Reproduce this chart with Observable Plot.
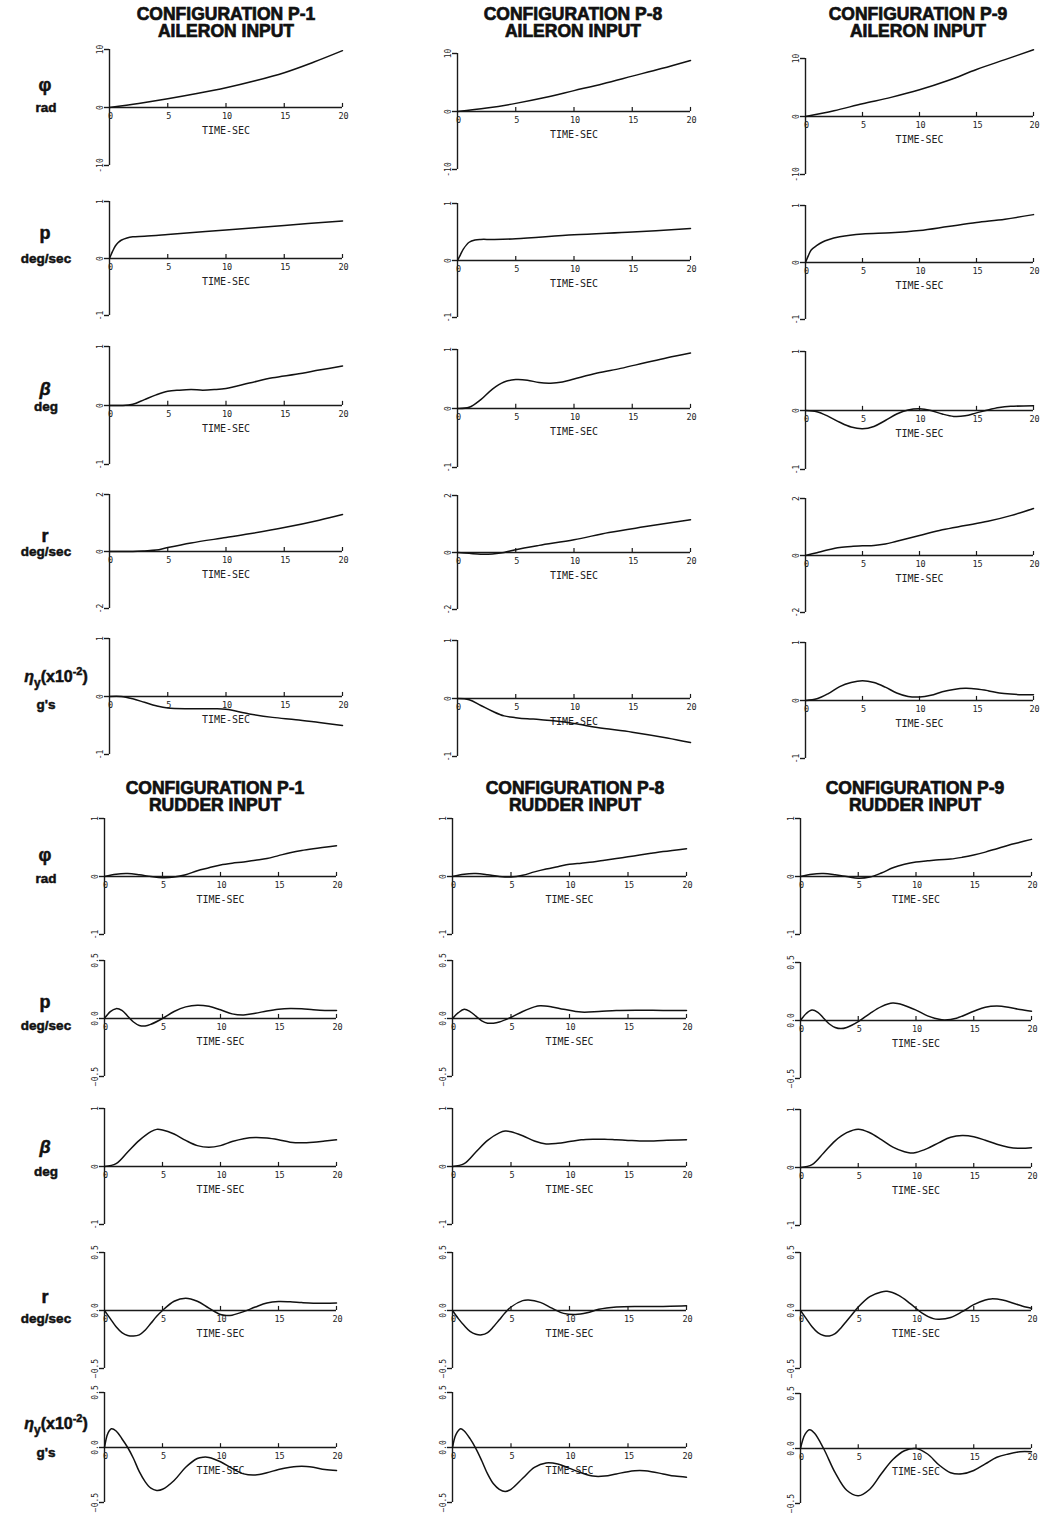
<!DOCTYPE html>
<html>
<head>
<meta charset="utf-8">
<script src="https://cdn.jsdelivr.net/npm/d3@7"></script>
<script src="https://cdn.jsdelivr.net/npm/@observablehq/plot@0.6"></script>
<style>
  html, body { margin: 0; padding: 0; background: #fff; overflow: hidden; }
  #page { position: relative; width: 1042px; height: 1513px; overflow: hidden; background: #fff; }
  .title { position: absolute; transform: translateX(-50%); text-align: center;
           font-family: "Liberation Sans", Arial, sans-serif; font-weight: bold;
           font-size: 17.5px; line-height: 17px; white-space: nowrap; color: #111;
           -webkit-text-stroke: 0.7px #111; }
  .rowlab { position: absolute; transform: translate(-50%, -50%); text-align: center;
            font-family: "Liberation Sans", Arial, sans-serif; font-weight: bold;
            font-size: 13.5px; white-space: nowrap; color: #111; -webkit-text-stroke: 0.5px #111; }
  .rowlab.sym { font-size: 18px; }
  .rowlab.eta { font-size: 16px; }
  .rowlab sub { font-size: 12px; vertical-align: -5px; }
  .rowlab sup { font-size: 11px; vertical-align: 7px; }
  .panel { position: absolute; }
  .panel svg { max-width: none !important; }
</style>
</head>
<body>
<div id="page"></div>
<script>
// ---- time-history samples: [time (s), response] ----

// Aileron input
const ailP1Phi  = [[0,0],[2.5,0.7],[5,1.5],[7.5,2.4],[10,3.4],[12.5,4.6],[15,6.0],[17.5,7.8],[20,9.8]];
const ailP1P    = [[0,0],[0.25,0.12],[0.5,0.22],[0.75,0.28],[1,0.32],[1.5,0.36],[2,0.38],[3,0.39],[5,0.42],[10,0.5],[15,0.58],[20,0.66]];
const ailP1Beta = [[0,0],[1,0],[2,0.02],[3,0.1],[4,0.18],[5,0.24],[6,0.26],[7,0.27],[8,0.26],[9,0.27],[10,0.29],[12,0.38],[14,0.47],[16,0.53],[18,0.6],[20,0.67]];
const ailP1R    = [[0,0],[2,0],[3,0.02],[4,0.05],[5,0.14],[7,0.3],[10,0.49],[12,0.62],[15,0.84],[18,1.1],[20,1.3]];
const ailP1Ny   = [[0,0],[1,0],[2,-0.04],[3,-0.1],[4,-0.16],[5,-0.2],[7,-0.21],[9,-0.21],[10,-0.22],[12,-0.3],[14,-0.36],[16,-0.4],[18,-0.45],[20,-0.5]];

const ailP8Phi  = [[0,0],[2.5,0.6],[5,1.4],[7.5,2.4],[10,3.6],[12.5,4.8],[15,6.1],[17.5,7.4],[20,8.8]];
const ailP8P    = [[0,0],[0.25,0.1],[0.5,0.2],[1,0.32],[1.5,0.36],[2,0.37],[3,0.37],[5,0.38],[10,0.45],[15,0.5],[20,0.56]];
const ailP8Beta = [[0,0],[1,0.02],[2,0.15],[3,0.33],[4,0.45],[5,0.49],[6,0.48],[7,0.44],[8,0.43],[9,0.45],[10,0.5],[12,0.6],[14,0.68],[16,0.77],[18,0.86],[20,0.94]];
const ailP8R    = [[0,0],[1,-0.03],[2,-0.06],[3,-0.05],[4,0],[5,0.1],[7,0.25],[10,0.45],[13,0.7],[16,0.9],[20,1.15]];
const ailP8Ny   = [[0,0],[1,-0.02],[2,-0.12],[3,-0.22],[4,-0.3],[5,-0.33],[6,-0.35],[7,-0.36],[8,-0.38],[10,-0.43],[12,-0.5],[15,-0.58],[18,-0.68],[20,-0.76]];

const ailP9Phi  = [[0,0],[2.5,1.0],[5,2.2],[7.5,3.3],[10,4.6],[12.5,6.2],[15,8.1],[17.5,9.8],[20,11.5]];
const ailP9P    = [[0,0],[0.25,0.12],[0.5,0.22],[1,0.3],[1.5,0.36],[2,0.4],[3,0.45],[5,0.5],[7.5,0.52],[10,0.56],[12.5,0.63],[15,0.7],[17.5,0.76],[20,0.84]];
const ailP9Beta = [[0,0],[1,-0.02],[2,-0.1],[3,-0.2],[4,-0.28],[5,-0.31],[6,-0.27],[7,-0.17],[8,-0.06],[9,0.01],[10,0.03],[11,0],[12,-0.06],[13,-0.1],[14,-0.09],[15,-0.04],[16,0.01],[17,0.05],[18,0.07],[20,0.08]];
const ailP9R    = [[0,0],[1,0.1],[2,0.2],[3,0.28],[4,0.32],[5,0.34],[6,0.35],[7,0.4],[8,0.5],[10,0.7],[12,0.9],[14,1.05],[16,1.2],[18,1.4],[20,1.65]];
const ailP9Ny   = [[0,0],[1,0.03],[2,0.12],[3,0.24],[4,0.31],[5,0.34],[6,0.31],[7,0.23],[8,0.13],[9,0.07],[10,0.06],[11,0.09],[12,0.15],[13,0.19],[14,0.21],[15,0.2],[16,0.17],[17,0.13],[18,0.11],[19,0.1],[20,0.1]];

// Rudder input
const rudP1Phi  = [[0,0],[1,0.04],[2,0.05],[3,0.03],[4,0],[5,-0.02],[6,-0.01],[7,0.03],[8,0.1],[9,0.15],[10,0.2],[11,0.23],[12,0.25],[13,0.28],[14,0.31],[15,0.36],[16,0.41],[17,0.45],[18,0.48],[20,0.53]];
const rudP1P    = [[0,0],[0.5,0.06],[1,0.085],[1.5,0.07],[2,0.02],[2.5,-0.03],[3,-0.06],[3.5,-0.065],[4,-0.05],[5,0],[6,0.06],[7,0.1],[8,0.115],[9,0.105],[10,0.075],[11,0.04],[12,0.03],[13,0.045],[14,0.065],[15,0.08],[16,0.086],[17,0.083],[18,0.075],[19,0.07],[20,0.07]];
const rudP1Beta = [[0,0],[1,0.05],[2,0.25],[3,0.45],[4,0.6],[4.5,0.64],[5,0.63],[6,0.56],[7,0.45],[8,0.36],[9,0.33],[10,0.36],[11,0.43],[12,0.48],[13,0.5],[14,0.49],[15,0.46],[16,0.42],[17,0.41],[18,0.42],[19,0.44],[20,0.46]];
const rudP1R    = [[0,0],[0.5,-0.07],[1,-0.14],[1.5,-0.19],[2,-0.215],[2.5,-0.22],[3,-0.21],[3.5,-0.17],[4,-0.11],[4.5,-0.05],[5,0],[6,0.08],[7,0.106],[8,0.08],[9,0.02],[10,-0.035],[10.5,-0.043],[11,-0.04],[12,-0.01],[13,0.03],[14,0.065],[15,0.078],[16,0.075],[17,0.068],[18,0.063],[19,0.063],[20,0.065]];
const rudP1Ny   = [[0,0],[0.3,0.13],[0.6,0.17],[1,0.15],[1.5,0.08],[2,0],[2.5,-0.1],[3,-0.22],[3.5,-0.31],[4,-0.37],[4.5,-0.39],[5,-0.38],[6,-0.3],[7,-0.18],[8,-0.1],[8.5,-0.088],[9,-0.09],[10,-0.13],[11,-0.19],[12,-0.24],[13,-0.25],[14,-0.23],[15,-0.2],[16,-0.18],[17,-0.17],[18,-0.18],[19,-0.2],[20,-0.21]];

const rudP8Phi  = [[0,0],[1,0.04],[2,0.05],[3,0.03],[4,0],[5,-0.01],[6,0.02],[7,0.08],[8,0.13],[9,0.17],[10,0.21],[11,0.23],[12,0.25],[13,0.28],[14,0.31],[15,0.34],[16,0.37],[17,0.4],[18,0.43],[20,0.48]];
const rudP8P    = [[0,0],[0.5,0.05],[1,0.08],[1.5,0.06],[2,0.02],[2.5,-0.02],[3,-0.04],[3.5,-0.04],[4,-0.03],[5,0.01],[6,0.06],[7,0.1],[7.5,0.11],[8.5,0.1],[9.5,0.08],[11,0.055],[12.5,0.06],[14,0.07],[16,0.072],[18,0.07],[20,0.07]];
const rudP8Beta = [[0,0],[1,0.05],[2,0.25],[3,0.45],[4,0.58],[4.5,0.61],[5,0.6],[6,0.53],[7,0.44],[8,0.39],[9,0.4],[10,0.43],[11,0.46],[12,0.47],[13,0.47],[14,0.46],[15,0.45],[16,0.44],[17,0.44],[18,0.45],[20,0.46]];
const rudP8R    = [[0,0],[0.5,-0.07],[1,-0.13],[1.5,-0.18],[2,-0.205],[2.5,-0.21],[3,-0.19],[3.5,-0.14],[4,-0.08],[4.5,-0.02],[5,0.03],[6,0.085],[6.5,0.09],[7.5,0.07],[8.5,0.02],[9.5,-0.025],[10.5,-0.035],[11.5,-0.02],[12.5,0.01],[14,0.03],[16,0.035],[18,0.035],[20,0.04]];
const rudP8Ny   = [[0,0],[0.3,0.12],[0.7,0.17],[1,0.15],[1.5,0.08],[2,-0.01],[2.5,-0.12],[3,-0.24],[3.5,-0.33],[4,-0.38],[4.5,-0.4],[5,-0.38],[6,-0.28],[7,-0.18],[8,-0.14],[9,-0.15],[10,-0.19],[11,-0.23],[12,-0.26],[13,-0.26],[14,-0.24],[15,-0.22],[16,-0.21],[17,-0.22],[18,-0.24],[19,-0.26],[20,-0.27]];

const rudP9Phi  = [[0,0],[1,0.04],[2,0.05],[3,0.03],[4,0],[5,-0.03],[6,-0.01],[7,0.06],[8,0.15],[9,0.21],[10,0.25],[11,0.27],[12,0.29],[13,0.3],[14,0.33],[15,0.37],[16,0.42],[17,0.48],[18,0.54],[19,0.59],[20,0.64]];
const rudP9P    = [[0,0],[0.5,0.06],[1,0.09],[1.5,0.07],[2,0.02],[2.5,-0.03],[3,-0.06],[3.5,-0.07],[4,-0.06],[5,-0.01],[6,0.06],[7,0.12],[8,0.15],[9,0.13],[10,0.09],[11,0.04],[12,0.01],[12.5,0.005],[13.5,0.02],[15,0.08],[16,0.115],[17,0.125],[18,0.115],[19,0.095],[20,0.08]];
const rudP9Beta = [[0,0],[1,0.05],[2,0.25],[3,0.46],[4,0.6],[5,0.66],[6,0.6],[7,0.48],[8,0.35],[9,0.27],[9.5,0.25],[10,0.26],[11,0.33],[12,0.43],[13,0.52],[14,0.55],[15,0.53],[16,0.47],[17,0.4],[18,0.35],[19,0.33],[20,0.34]];
const rudP9R    = [[0,0],[0.5,-0.07],[1,-0.14],[1.5,-0.19],[2,-0.215],[2.5,-0.22],[3,-0.2],[3.5,-0.15],[4,-0.09],[4.5,-0.03],[5,0.03],[6,0.12],[7,0.16],[7.5,0.165],[8.5,0.13],[9.5,0.06],[10.5,-0.02],[11.5,-0.07],[12,-0.075],[13,-0.06],[14,-0.01],[15,0.05],[16,0.09],[16.5,0.1],[17.5,0.09],[18.5,0.06],[19.5,0.03],[20,0.02]];
const rudP9Ny   = [[0,0],[0.4,0.13],[0.8,0.17],[1.2,0.14],[2,0],[3,-0.22],[4,-0.38],[5,-0.43],[6,-0.37],[7,-0.23],[8,-0.1],[9,-0.02],[10,0],[11,-0.05],[12,-0.15],[13,-0.22],[14,-0.23],[15,-0.2],[16,-0.14],[17,-0.08],[18,-0.05],[19,-0.03],[20,-0.03]];

// ---- axis ranges and labels ----
const timeTicks = [0, 5, 10, 15, 20];
const configNames = ["P-1", "P-8", "P-9"];
const ailRanges = [10, 1, 1, 2, 1];
const rudRanges = [1, 0.5, 1, 0.5, 0.5];
const rowTop    = ['φ', 'p', '<i>β</i>', 'r', '<i>η</i><sub>y</sub>(x10<sup>-2</sup>)'];
const rowBottom = ['rad', 'deg/sec', 'deg', 'deg/sec', "g's"];

const ailSeries = [
  [ailP1Phi, ailP1P, ailP1Beta, ailP1R, ailP1Ny],
  [ailP8Phi, ailP8P, ailP8Beta, ailP8R, ailP8Ny],
  [ailP9Phi, ailP9P, ailP9Beta, ailP9R, ailP9Ny]
];
const rudSeries = [
  [rudP1Phi, rudP1P, rudP1Beta, rudP1R, rudP1Ny],
  [rudP8Phi, rudP8P, rudP8Beta, rudP8R, rudP8Ny],
  [rudP9Phi, rudP9P, rudP9Beta, rudP9R, rudP9Ny]
];

// ---- page layout ----
const page = document.getElementById("page");
const MT = 14, MB = 14, ML = 24, MR = 16;

const sections = [
  {
    input: "AILERON INPUT", series: ailSeries, ranges: ailRanges,
    titleY: 6, titleX: [226, 573, 918],
    x0: [109, 457, 805], x20: [342, 690, 1033],
    half: [58, 57, 59, 57, 58],
    zero: [[107, 258, 405, 551, 696], [111, 260, 408, 552, 698], [116, 262, 410, 555, 700]],
    labY: [[85, 107], [233, 258], [389, 406], [536, 551], [677, 704]]
  },
  {
    input: "RUDDER INPUT", series: rudSeries, ranges: rudRanges,
    titleY: 780, titleX: [215, 575, 915],
    x0: [104, 452, 800], x20: [336, 686, 1031],
    half: [58, 58, 58, 58, 55],
    zero: [[876, 1018, 1166, 1310, 1447], [876, 1018, 1166, 1310, 1447], [876, 1020, 1167, 1310, 1448]],
    labY: [[855, 878], [1002, 1025], [1147, 1171], [1297, 1318], [1424, 1452]]
  }
];

function fmtFor(range) {
  return range < 1 ? (d => d3.format(".1f")(d)) : (d => String(d));
}

function panel(data, range, width, half) {
  return Plot.plot({
    width: ML + width + MR,
    height: MT + 2 * half + MB,
    marginLeft: ML, marginRight: MR, marginTop: MT, marginBottom: MB,
    style: { background: "transparent", overflow: "visible", maxWidth: "none",
             fontFamily: "'DejaVu Sans Mono', monospace", color: "#222" },
    x: { domain: [0, 20], axis: null },
    y: { domain: [-range, range], axis: null },
    marks: [
      // vertical axis with bracket ticks at the range ends
      Plot.ruleX([0], { stroke: "#1a1a1a", strokeWidth: 1.4 }),
      Plot.axisY([-range, 0, range], {
        tickFormat: fmtFor(range), tickRotate: -90, tickSize: 5, tickPadding: 2,
        fontSize: 8, label: null, stroke: "#1a1a1a", strokeWidth: 1.4
      }),
      // time axis along the zero line
      Plot.ruleY([0], { x1: 0, x2: 20, stroke: "#1a1a1a", strokeWidth: 1.3 }),
      Plot.ruleX(timeTicks.slice(1), { x: d => d, y1: 0, y2: range * 0.07, stroke: "#1a1a1a", strokeWidth: 1.2 }),
      Plot.text(timeTicks, { x: d => d, y: 0, text: d => String(d), dy: 9, dx: 1, fontSize: 8.5, fill: "#222" }),
      Plot.text(["TIME-SEC"], { x: () => 10, y: () => 0, text: d => d, dy: 23, fontSize: 10, fill: "#222" }),
      // response curve
      Plot.line(data, { x: d => d[0], y: d => d[1], curve: "catmull-rom", stroke: "#111", strokeWidth: 1.5 })
    ]
  });
}

for (const s of sections) {
  // column titles
  s.titleX.forEach((cx, c) => {
    const t = document.createElement("div");
    t.className = "title";
    t.style.left = cx + "px";
    t.style.top = s.titleY + "px";
    t.innerHTML = `CONFIGURATION ${configNames[c]}<br>${s.input}`;
    page.appendChild(t);
  });
  // row labels
  s.labY.forEach(([y1, y2], r) => {
    const a = document.createElement("div");
    a.className = "rowlab " + (r === 4 ? "eta" : "sym");
    a.style.left = (r === 4 ? 56 : 45) + "px";
    a.style.top = y1 + "px";
    a.innerHTML = rowTop[r];
    page.appendChild(a);
    const b = document.createElement("div");
    b.className = "rowlab";
    b.style.left = "46px";
    b.style.top = y2 + "px";
    b.innerHTML = rowBottom[r];
    page.appendChild(b);
  });
  // panels
  for (let c = 0; c < 3; c++) {
    for (let r = 0; r < 5; r++) {
      const w = s.x20[c] - s.x0[c];
      const h = s.half[r];
      const svg = panel(s.series[c][r], s.ranges[r], w, h);
      const holder = document.createElement("div");
      holder.className = "panel";
      holder.style.left = (s.x0[c] - ML) + "px";
      holder.style.top = (s.zero[c][r] - MT - h) + "px";
      holder.style.width = (ML + w + MR) + "px";
      holder.appendChild(svg);
      page.appendChild(holder);
    }
  }
}
</script>
</body>
</html>
